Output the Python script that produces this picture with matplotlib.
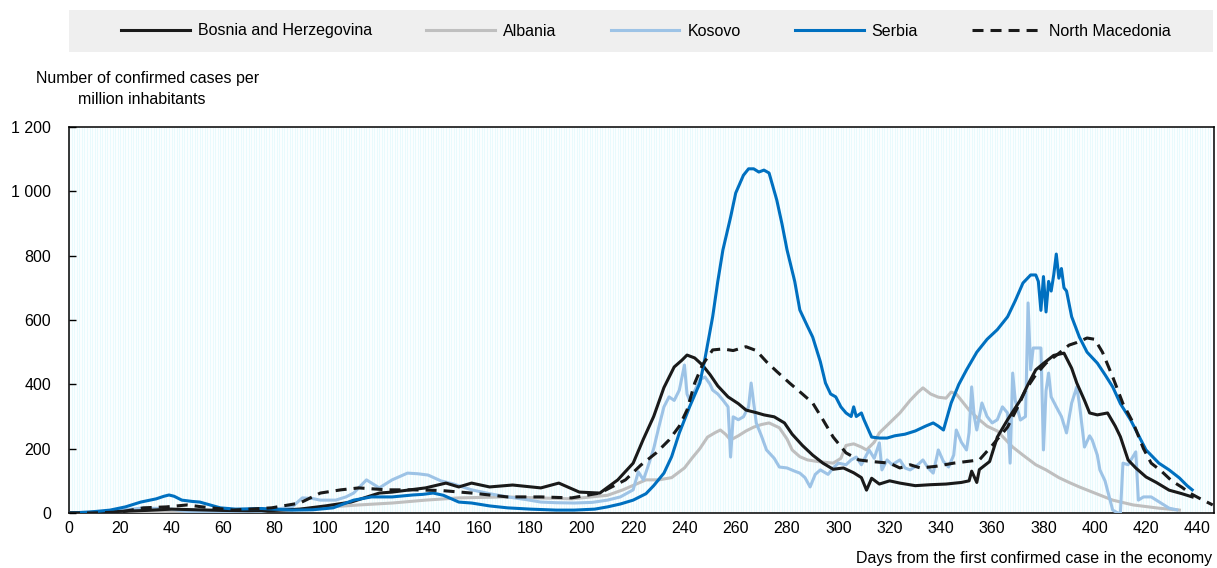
import numpy as np
import matplotlib
matplotlib.use("Agg")
import matplotlib.pyplot as plt
from matplotlib.patches import Rectangle

plt.rcParams['font.family'] = ['Liberation Sans', 'DejaVu Sans']

# ---------------- data ----------------
bih_days = [0,10,20,30,40,50,60,70,80,90,100,110,121,126,139,147,152,157,164,173,184,191,199,207,214,220,224,228,232,236,239,241,244,247,250,253,257,261,264,268,271,275,279,282,286,290,294,298,302,306,309,311,313,316,320,324,330,336,342,348,351,352,354,355,359,362,366,371,374,377,380,384,388,391,393,396,398,401,405,408,410,413,416,420,424,429,434,438]
bih_vals = [0,2,5,8,12,10,8,7,8,12,22,34,62,65,78,93,81,93,81,87,78,93,65,62,103,155,230,300,390,454,475,491,482,460,430,395,361,340,320,312,305,299,280,245,210,180,155,136,140,125,110,71,108,90,100,93,85,88,90,95,100,130,95,135,160,236,290,351,400,445,465,490,497,450,404,350,311,305,311,270,237,165,140,112,95,71,60,50]

alb_days = [0,20,40,60,87,100,113,126,139,152,170,196,210,216,225,230,235,240,243,246,249,252,254,256,258,261,264,267,270,273,277,280,282,285,288,292,298,301,303,306,309,311,314,316,320,324,328,331,333,336,339,342,344,346,348,351,355,358,362,365,368,372,377,381,386,390,394,400,407,415,425,433]
alb_vals = [0,3,5,5,10,18,25,31,40,47,50,44,55,72,103,103,110,140,171,200,236,250,258,245,227,240,255,267,275,280,265,230,196,175,165,160,155,170,210,215,205,196,220,249,280,311,350,375,389,370,360,357,376,370,350,320,290,270,255,230,205,180,150,134,110,95,81,62,40,25,15,9]

kos_days = [0,10,20,28,38,46,55,65,75,87,91,95,98,104,108,111,116,121,126,132,136,140,145,150,157,164,171,178,184,190,197,204,210,215,220,222,224,226,228,230,232,234,236,238,240,241,242,244,246,248,250,251,253,255,257,258,259,261,263,265,266,268,270,272,275,277,280,283,285,287,289,291,293,296,298,300,303,305,307,309,312,314,316,317,319,321,324,326,328,331,333,335,337,339,341,343,345,346,348,350,351,352,353,354,356,358,360,362,364,366,367,368,369,371,373,374,375,376,378,379,380,381,382,383,385,387,389,391,393,394,396,398,399,401,402,404,406,407,409,410,411,413,416,417,419,422,425,429,432]
kos_vals = [0,3,8,15,14,5,5,4,5,19,47,45,40,40,50,62,103,78,103,124,122,118,100,90,72,60,50,42,34,32,31,33,40,50,72,128,103,150,200,267,330,361,350,382,460,370,351,380,414,423,400,382,370,351,330,174,299,290,299,330,404,280,240,196,170,143,140,130,124,110,81,120,134,120,140,155,150,165,174,150,196,170,218,134,165,150,165,140,134,150,165,140,124,196,160,143,180,258,220,196,250,392,300,258,342,300,280,290,330,311,155,435,350,289,300,653,445,513,513,513,196,380,435,361,330,300,249,342,392,340,205,240,227,180,134,100,40,9,0,0,155,150,190,40,50,50,35,15,10]

srb_days = [0,8,16,22,28,34,37,39,41,44,48,51,55,59,65,75,87,95,103,107,111,118,126,134,138,142,146,152,157,164,171,180,190,197,205,210,215,220,225,228,232,235,238,242,246,248,251,253,255,258,260,263,265,267,269,271,273,276,278,280,283,285,288,290,293,295,297,299,301,303,305,306,307,309,310,313,316,319,322,326,330,334,337,339,341,344,347,350,354,358,362,366,369,372,375,377,378,379,380,381,382,383,384,385,386,387,388,389,390,391,394,397,401,404,407,410,414,420,425,429,433,436,438]
srb_vals = [0,3,9,19,34,44,52,56,52,40,36,34,25,16,12,14,9,10,16,28,40,50,50,56,58,62,55,34,31,22,16,12,9,9,12,19,28,40,60,85,124,175,249,330,404,480,610,720,818,920,995,1050,1070,1070,1060,1066,1057,973,900,818,720,631,580,547,470,404,370,361,330,311,300,330,300,311,290,236,233,233,240,245,255,270,280,270,258,342,400,445,500,540,570,610,660,715,740,740,720,630,735,625,720,690,740,805,730,760,700,690,650,610,547,500,466,430,392,340,289,196,155,134,109,85,72]

mkd_days = [0,9,20,29,38,46,52,64,79,90,98,106,113,124,134,145,157,171,184,196,207,217,223,229,234,238,241,244,247,251,255,259,264,268,272,276,281,286,290,294,298,303,308,313,320,324,328,332,338,345,350,355,360,366,370,373,377,381,385,390,393,397,400,403,407,411,415,419,422,426,430,434,437,441,446]
mkd_vals = [0,0,3,16,19,25,19,9,16,31,62,72,78,72,72,70,62,50,50,47,62,103,149,187,227,270,320,404,460,507,510,505,517,505,470,440,404,370,342,290,236,187,165,160,155,140,150,140,145,155,160,165,210,267,330,382,430,466,490,522,530,544,540,500,423,340,280,200,155,130,100,80,62,45,25]

series = [
    ("Albania", alb_days, alb_vals, dict(color='#bfbfbf', lw=2.2, ls='-')),
    ("Kosovo", kos_days, kos_vals, dict(color='#9dc3e6', lw=2.2, ls='-')),
    ("Bosnia and Herzegovina", bih_days, bih_vals, dict(color='#1a1a1a', lw=2.2, ls='-')),
    ("Serbia", srb_days, srb_vals, dict(color='#0070c0', lw=2.2, ls='-')),
    ("North Macedonia", mkd_days, mkd_vals, dict(color='#1a1a1a', lw=2.2, ls=(0, (3.6, 2.3)))),
]
legend_order = ["Bosnia and Herzegovina", "Albania", "Kosovo", "Serbia", "North Macedonia"]

x_ticks = list(range(0, 441, 20))
y_ticks = [0, 200, 400, 600, 800, 1000, 1200]
y_labels = ["0", "200", "400", "600", "800", "1 000", "1 200"]

# ---------------- figure ----------------
W, H = 1217, 568
fig = plt.figure(figsize=(W/100, H/100), dpi=100)
ax = fig.add_axes([69/W, 1-513/H, (1214-69)/W, (513-127)/H])

ax.set_xlim(0, 446.5)
ax.set_ylim(0, 1200)

# light striped background
ax.set_facecolor('#fbfeff')
ax.vlines(np.arange(0, 447, 1), 0, 1200, color='#e9fafd', lw=0.7, zorder=0)

handles = {}
for name, d, v, st in series:
    ln, = ax.plot(d, v, label=name, zorder=3, solid_joinstyle='round', **st)
    handles[name] = ln

for s in ax.spines.values():
    s.set_color('black')
    s.set_linewidth(1.1)

fs = 11.5
ax.set_xticks(x_ticks)
ax.set_xticklabels([str(t) for t in x_ticks], fontsize=fs)
ax.set_yticks(y_ticks)
ax.set_yticklabels(y_labels, fontsize=fs)
ax.tick_params(axis='x', length=0, pad=6)
ax.tick_params(axis='y', direction='in', length=5, width=1, pad=13)

fig.text(148/W, 1-78/H, "Number of confirmed cases per", ha='center', va='center', fontsize=fs)
fig.text(142/W, 1-100/H, "million inhabitants", ha='center', va='center', fontsize=fs)
fig.text(1212/W, 1-559/H, "Days from the first confirmed case in the economy",
         ha='right', va='center', fontsize=fs)

# legend band
fig.patches.append(Rectangle((69/W, 1-52/H), (1213-69)/W, 42/H, transform=fig.transFigure,
                             facecolor='#efefef', edgecolor='none', zorder=0))
leg = fig.legend([handles[n] for n in legend_order], legend_order, loc='center',
                 bbox_to_anchor=(646/W, 1-31/H), ncol=5, frameon=False, fontsize=fs,
                 handlelength=4.3, handletextpad=0.5, columnspacing=3.4)

fig.savefig("out.png", dpi=100)
